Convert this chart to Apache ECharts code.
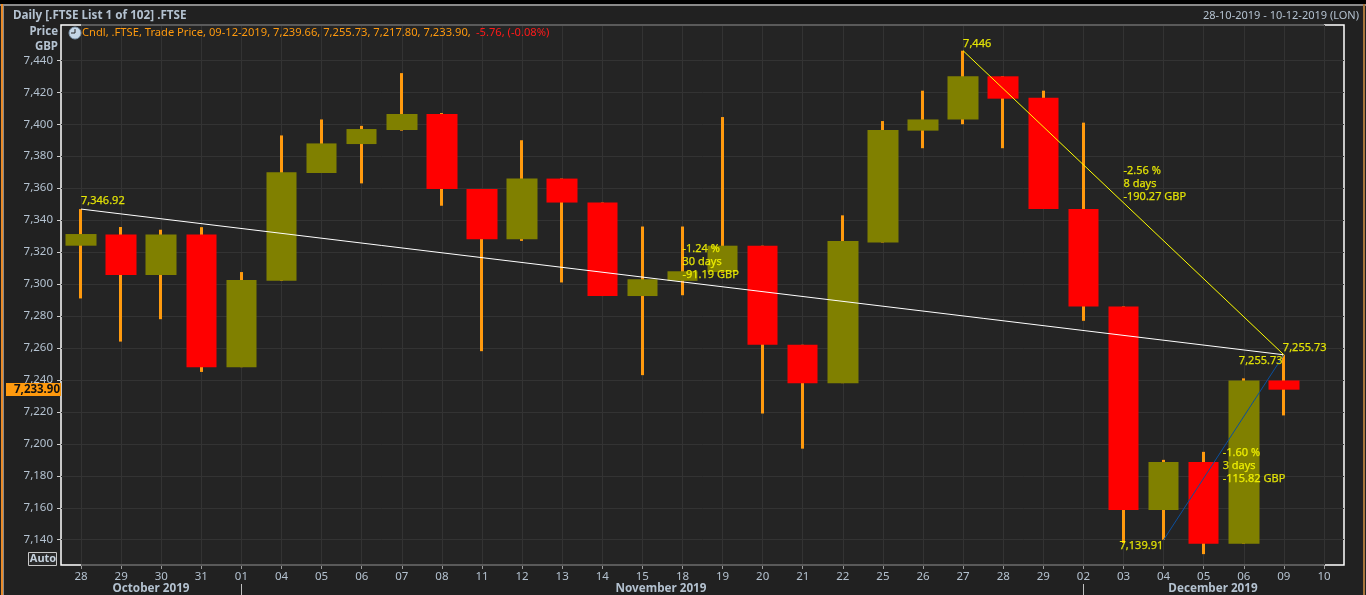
<!DOCTYPE html>
<html><head><meta charset="utf-8">
<style>html,body{margin:0;padding:0;background:#212121;overflow:hidden}#c{width:1366px;height:595px}</style>
<script src="https://cdn.jsdelivr.net/npm/echarts@6/dist/echarts.min.js"></script>
</head><body><div id="c"></div>
<script>
const categories=['28','29','30','31','01','04','05','06','07','08','11','12','13','14','15','18','19','20','21','22','25','26','27','28','29','02','03','04','05','06','09','10'];
const opens =[7324,7331,7305.7,7331,7248,7302,7369.5,7387.6,7396.4,7406.4,7359.5,7328,7366,7351,7292.5,7302,7307.5,7324,7262,7238,7326,7396,7403,7430,7416.5,7347,7286,7158.6,7188.6,7137.5,7239.66,null];
const closes=[7331.3,7305.7,7331,7248,7302.5,7370,7388,7397,7406.4,7359.5,7328,7366,7351,7292.5,7303,7308,7324,7262,7238,7327,7396.4,7403,7430,7416,7347,7286,7158.6,7188.6,7137.5,7239.66,7233.9,null];
const lows  =[7291,7264,7278,7245,7248,7302,7369.5,7363,7396,7349,7258,7327,7301,7292.5,7243,7293,7307,7219,7197,7238,7326,7385,7400,7385,7347,7277,7138,7139.91,7131,7137.5,7217.8,null];
const highs =[7346.92,7335.7,7334,7335.6,7307.5,7393,7403,7399,7432,7407,7359.5,7390,7366,7351,7336,7336,7404.5,7324,7262,7343,7402,7421,7446,7430,7421,7401,7286,7190,7195,7241,7255.73,null];
const priceTicks=[7140,7160,7180,7200,7220,7240,7260,7280,7300,7320,7340,7360,7380,7400,7420,7440];
const axisMin=7124.2, axisMax=7462.1;
const whiteTrend=[[0,7346.92],[30,7255.73]];
const yellowTrend=[[22,7446],[30,7255.73]];
const blueTrend=[[27,7139.91],[30,7255.73]];
const annotations=[
 {at:[0,7346.92],text:'7,346.92',dx:0,dy:-8},
 {at:[22,7446],text:'7,446',dx:0,dy:-7},
 {at:[30,7255.73],text:'7,255.73',dx:-1,dy:-7},
 {at:[30,7255.73],text:'7,255.73',dx:-45,dy:6},
 {at:[27,7139.91],text:'7,139.91',dx:-44,dy:6},
 {at:[26,7363],text:'-2.56 %\n8 days\n-190.27 GBP',dx:0,dy:0},
 {at:[15,7313.7],text:'-1.24 %\n30 days\n-91.19 GBP',dx:0,dy:0},
 {at:[28,7186],text:'-1.60 %\n3 days\n-115.82 GBP',dx:19,dy:0}
];
const FONT='"Noto Sans"';
const TXT='#b4c2d0';
const candleWicks=categories.map((c,i)=>[opens[i],closes[i],lows[i],highs[i]]);
const candleBodies=categories.map((c,i)=>opens[i]==null?[null,null,null,null]:[opens[i],closes[i],Math.min(opens[i],closes[i]),Math.max(opens[i],closes[i])]);
const trend=(name,data,color,extra)=>Object.assign({name,type:'line',data,symbol:'none',silent:true,z:5,lineStyle:{color,width:1}},extra||{});
const txt=(x,y,text,o)=>({type:'text',x,y,silent:true,z:25,style:Object.assign({text,fill:TXT,font:'11px '+FONT,textVerticalAlign:'middle'},o||{})});
const rect=(x,y,w,h,fill,z)=>({type:'rect',silent:true,z:z||0,shape:{x,y,width:w,height:h},style:{fill}});
const chart=echarts.init(document.getElementById('c'),null,{renderer:'canvas'});
chart.setOption({
 animation:false,backgroundColor:'#212121',
 grid:{left:61,top:25,width:1283,height:540,show:true,backgroundColor:'#242424',borderColor:'#ffffff',borderWidth:1.5},
 xAxis:{type:'category',data:categories,boundaryGap:true,
  axisLine:{show:false},
  axisTick:{show:true,alignWithLabel:true,length:4,interval:0,lineStyle:{color:'#9a9a9a'}},
  axisLabel:{interval:0,color:TXT,fontFamily:FONT,fontSize:11.5,margin:6},
  splitLine:{show:true,alignWithLabel:true,interval:0,lineStyle:{color:'#333333',width:1}}},
 yAxis:{type:'value',min:axisMin,max:axisMax,scale:true,
  axisLine:{show:false},
  axisTick:{show:true,length:4,customValues:priceTicks,lineStyle:{color:'#d0d0d0'}},
  axisLabel:{color:TXT,fontFamily:FONT,fontSize:11.5,margin:8,customValues:priceTicks,formatter:v=>v.toLocaleString('en-US')},
  splitLine:{show:true,lineStyle:{color:'#333333',width:1}}},
 series:[
  {name:'wicks',type:'candlestick',data:candleWicks,barWidth:1,z:2,silent:true,
   itemStyle:{color:'#ff9a0e',color0:'#ff9a0e',borderColor:'#ff9a0e',borderColor0:'#ff9a0e',borderWidth:3}},
  {name:'bodies',type:'candlestick',data:candleBodies,barWidth:31,z:3,silent:true,
   itemStyle:{color:'#808000',color0:'#ff0000',borderColor:'#808000',borderColor0:'#ff0000',borderWidth:0}},
  trend('white',whiteTrend,'#ffffff',{markLine:{silent:true,symbol:'none',label:{show:false},lineStyle:{color:'#5a5a5a',width:2,type:'solid'},
    data:[[{coord:[0,axisMin]},{coord:[31,axisMin]}],[{coord:[0,axisMax]},{coord:[31,axisMax]}]]}}),
  trend('yellow',yellowTrend,'#ffff00'),
  trend('blue',blueTrend,'#0a4f9e'),
  {name:'notes',type:'scatter',symbol:'circle',symbolSize:0,z:8,silent:true,
   data:annotations.map(a=>({value:a.at,label:{show:true,position:'right',distance:0,offset:[a.dx,a.dy],formatter:a.text,color:'#ffff00',textBorderColor:'#ffff00',textBorderWidth:0.25,fontFamily:FONT,fontSize:11,lineHeight:13,align:'left'}}))}
 ],
 graphic:[
  rect(0,0,1366,4,'#000000',30),
  rect(0,4,1366,2,'#8a8a8a',30),
  rect(1,4,2,591,'#e98b2a',30),
  rect(3,4,1,591,'#8a8a8a',30),
  rect(1363,4,2,591,'#a8763c',30),
  txt(13,16,'Daily [.FTSE List 1 of 102] .FTSE',{font:'bold 11.7px '+FONT}),
  txt(1359,16,'28-10-2019 - 10-12-2019 (LON)',{textAlign:'right'}),
  txt(58,32,'Price',{font:'bold 11.5px '+FONT,textAlign:'right'}),
  txt(58,47,'GBP',{font:'bold 11.5px '+FONT,textAlign:'right'}),
  {type:'circle',silent:true,z:21,shape:{cx:75,cy:33,r:6},style:{fill:'#c4d6e6',stroke:'#7f97ad',lineWidth:1}},
  {type:'polyline',silent:true,z:22,shape:{points:[[75,29],[75,33],[71,33]]},style:{stroke:'#222222',fill:null,lineWidth:1}},
  txt(82,33,'Cndl, .FTSE, Trade Price, 09-12-2019, 7,239.66, 7,255.73, 7,217.80, 7,233.90, ',{fill:'#ff9a0e',font:'11.17px '+FONT}),
  txt(476,33,'-5.76, (-0.08%)',{fill:'#ff1a1a',font:'11.17px '+FONT}),
  rect(6,383,55,13,'#ff9a0e',21),
  txt(60,390,'7,233.90',{fill:'#111111',font:'bold 11.5px '+FONT,textAlign:'right'}),
  {type:'rect',silent:true,z:21,shape:{x:28.5,y:552.5,width:28,height:13},style:{fill:'#2a2a2a',stroke:'#c8c8c8',lineWidth:1}},
  txt(43,559,'Auto',{font:'bold 11px '+FONT,textAlign:'center',fill:'#c4d0dc'}),
  txt(151,589,'October 2019',{font:'bold 11.7px '+FONT,textAlign:'center'}),
  txt(661,589,'November 2019',{font:'bold 11.7px '+FONT,textAlign:'center'}),
  txt(1213,589,'December 2019',{font:'bold 11.7px '+FONT,textAlign:'center'}),
  rect(241,584,1,11,'#c0c0c0',21),
  rect(1083,584,1,11,'#c0c0c0',21)
 ]
});
</script></body></html>
